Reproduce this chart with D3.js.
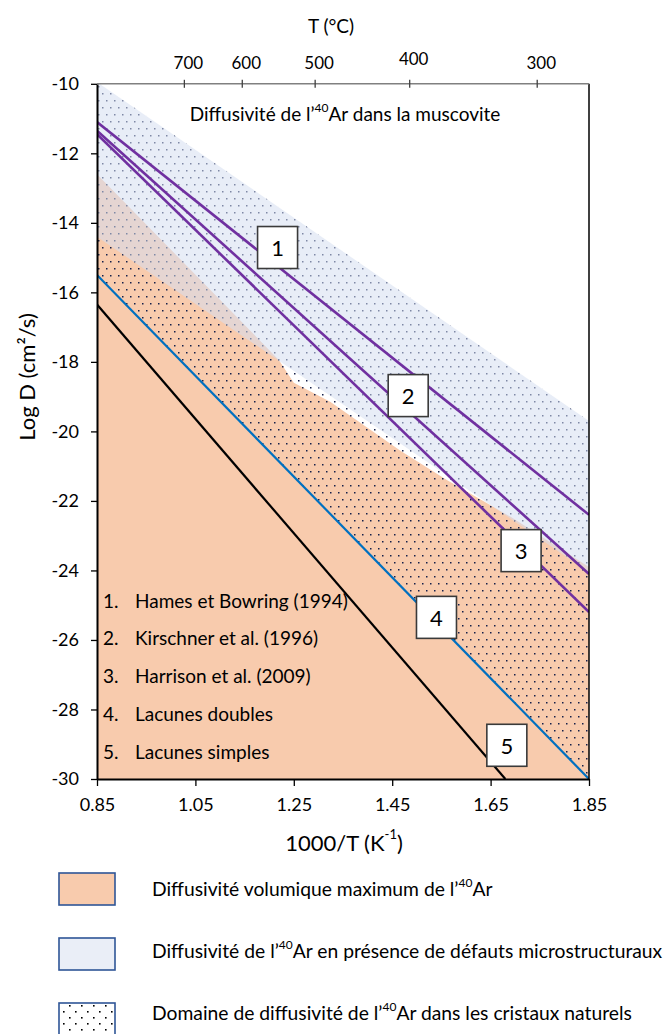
<!DOCTYPE html>
<html><head><meta charset="utf-8">
<script src="https://cdn.jsdelivr.net/npm/d3@7"></script>
<style>
body{margin:0;background:#fff}
svg{display:block;font-family:Lato,"Open Sans",sans-serif}
</style>
</head><body><svg id="c" width="668" height="1034"></svg>
<script>
// ---------- data ----------
const xDomain = [0.85, 1.85];
const yDomain = [-30, -10];
const xTicks = [0.85, 1.05, 1.25, 1.45, 1.65, 1.85];
const yTicks = [-10, -12, -14, -16, -18, -20, -22, -24, -26, -28, -30];
const tempTicks = [700, 600, 500, 400, 300];

const line1 = [[0.85, -11.1], [1.85, -22.4]];   // Hames et Bowring (1994)
const line2 = [[0.85, -11.35], [1.85, -24.1]];  // Kirschner et al. (1996)
const line3 = [[0.85, -11.45], [1.85, -25.2]];  // Harrison et al. (2009)
const line4 = [[0.85, -15.5], [1.85, -30]];     // Lacunes doubles
const line5 = [[0.85, -16.35], [1.68, -30]];    // Lacunes simples

const orangeTop = [[0.85, -12.6], [1.22, -17.95], [1.25, -18.6], [1.324, -19.15],
                   [1.466, -20.55], [1.561, -21.4], [1.69, -22.45], [1.85, -23.9]];
const blueTop = [[0.85, -9.95], [1.85, -19.7]];
const blueBottom = [[0.85, -14.4], [1.85, -24.05]];

const boxLabels = ["1", "2", "3", "4", "5"];
const boxX = [1.217, 1.4825, 1.712, 1.54, 1.683];
const boxY = [-14.71, -18.97, -23.43, -25.35, -29.03];

const refNums = ["1.", "2.", "3.", "4.", "5."];
const refTexts = ["Hames et Bowring (1994)", "Kirschner et al. (1996)", "Harrison et al. (2009)",
                  "Lacunes doubles", "Lacunes simples"];

const legendTexts = [
  ["Diffusivité volumique maximum de l’", "40", "Ar"],
  ["Diffusivité de l’", "40", "Ar en présence de défauts microstructuraux"],
  ["Domaine de diffusivité de l’", "40", "Ar dans les cristaux naturels"]
];

// ---------- chart ----------
const L = 97, R = 589, T = 83.8, B = 779;
const x = d3.scaleLinear().domain(xDomain).range([L, R]);
const y = d3.scaleLinear().domain(yDomain).range([B, T]);
const svg = d3.select("#c");
const defs = svg.append("defs");
defs.append("clipPath").attr("id", "plot")
  .append("rect").attr("x", L).attr("y", T).attr("width", R - L).attr("height", B - T);

const pat = defs.append("pattern").attr("id", "dots").attr("patternUnits", "userSpaceOnUse")
  .attr("width", 8).attr("height", 14);
pat.append("rect").attr("x", 2).attr("y", 2).attr("width", 1.5).attr("height", 1.5).attr("fill", "#15204a");
pat.append("rect").attr("x", 6).attr("y", 9).attr("width", 1.5).attr("height", 1.5).attr("fill", "#15204a");

const pat2 = defs.append("pattern").attr("id", "dotsLeg").attr("patternUnits", "userSpaceOnUse")
  .attr("width", 12).attr("height", 12);
pat2.append("rect").attr("x", 3).attr("y", 3).attr("width", 1.6).attr("height", 1.6).attr("fill", "#000");
pat2.append("rect").attr("x", 9).attr("y", 9).attr("width", 1.6).attr("height", 1.6).attr("fill", "#000");

const g = svg.append("g").attr("clip-path", "url(#plot)");
const ln = d3.line().x(d => x(d[0])).y(d => y(d[1]));

// orange domain
const orangeArea = d3.area().x(d => x(d[0])).y0(y(yDomain[0])).y1(d => y(d[1]));
g.append("path").attr("d", orangeArea(orangeTop)).attr("fill", "#F8CBAD");

// dotted domain (natural crystals): between blue top and line 4
g.append("path").attr("d", ln(blueTop.concat(line4.slice().reverse())) + "Z")
  .attr("fill", "url(#dots)");

// blue band (defects)
g.append("path").attr("d", ln(blueTop.concat(blueBottom.slice().reverse())) + "Z")
  .attr("fill", "#D6DFF0").attr("fill-opacity", 0.55);

// lines
[[line1, "#7030A0", 2.6], [line2, "#7030A0", 2.6], [line3, "#7030A0", 2.6],
 [line4, "#0070C0", 2.2], [line5, "#000000", 2.2]].forEach(([d, c, w]) => {
  g.append("path").attr("d", ln(d)).attr("fill", "none").attr("stroke", c).attr("stroke-width", w);
});

// numbered boxes
const bw = 40, bh = 42;
boxLabels.forEach((lab, i) => {
  const cx = x(boxX[i]), cy = y(boxY[i]);
  svg.append("rect").attr("x", cx - bw / 2).attr("y", cy - bh / 2).attr("width", bw).attr("height", bh)
    .attr("fill", "#fff").attr("stroke", "#3a3a3a").attr("stroke-width", 1.6);
  svg.append("text").attr("x", cx).attr("y", cy).attr("text-anchor", "middle")
    .attr("dominant-baseline", "central").attr("font-size", 22).attr("fill", "#000").text(lab);
});

// in-plot references
refNums.forEach((n, i) => {
  const yy = 600 + i * 37.8;
  svg.append("text").attr("x", 103).attr("y", yy).attr("dominant-baseline", "central")
    .attr("font-size", 19).attr("fill", "#000").text(n);
  svg.append("text").attr("x", 135).attr("y", yy).attr("dominant-baseline", "central")
    .attr("font-size", 19).attr("fill", "#000").text(refTexts[i]);
});

// title in plot
const tt = svg.append("text").attr("x", 345).attr("y", 113).attr("text-anchor", "middle")
  .attr("dominant-baseline", "central").attr("font-size", 19).attr("fill", "#000");
tt.append("tspan").text("Diffusivité de l’");
tt.append("tspan").attr("font-size", 12).attr("dy", -6).text("40");
tt.append("tspan").attr("dy", 6).text("Ar dans la muscovite");

// ---------- axes ----------
const yAxis = svg.append("g").attr("transform", `translate(${L},0)`)
  .call(d3.axisLeft(y).tickValues(yTicks).tickSize(6).tickSizeOuter(0).tickPadding(12).tickFormat(d => String(d)));
yAxis.select(".domain").attr("stroke", "#000").attr("stroke-width", 2);
yAxis.selectAll(".tick line").attr("stroke", "#000").attr("stroke-width", 1.3);
yAxis.selectAll("text").attr("font-size", 18).attr("fill", "#000").attr("font-family", "Lato");

const xAxis = svg.append("g").attr("transform", `translate(0,${B})`)
  .call(d3.axisBottom(x).tickValues(xTicks).tickSize(7).tickSizeOuter(0).tickPadding(12).tickFormat(d3.format(".2f")));
xAxis.select(".domain").attr("stroke", "#000").attr("stroke-width", 2);
xAxis.selectAll(".tick line").attr("stroke", "#000").attr("stroke-width", 1.3);
xAxis.selectAll("text").attr("font-size", 18).attr("fill", "#000").attr("font-family", "Lato");

// right border
svg.append("line").attr("x1", R).attr("x2", R).attr("y1", T).attr("y2", B)
  .attr("stroke", "#000").attr("stroke-width", 1.5);

// top temperature axis
svg.append("line").attr("x1", L).attr("x2", R).attr("y1", T).attr("y2", T)
  .attr("stroke", "#808080").attr("stroke-width", 1.5);
const tx = t => x(1000 / (t + 273.15));
tempTicks.forEach(t => {
  svg.append("line").attr("x1", tx(t)).attr("x2", tx(t)).attr("y1", T - 4).attr("y2", T + 4)
    .attr("stroke", "#404040").attr("stroke-width", 1.3);
  svg.append("text").attr("x", tx(t) + 4).attr("y", t === 400 ? 58 : 62).attr("text-anchor", "middle")
    .attr("dominant-baseline", "central").attr("font-size", 17).attr("fill", "#000").text(t);
});

// axis titles
svg.append("text").attr("x", 331).attr("y", 25).attr("text-anchor", "middle")
  .attr("dominant-baseline", "central").attr("font-size", 19).attr("fill", "#000").text("T (°C)");

const xt = svg.append("text").attr("x", 344).attr("y", 842).attr("text-anchor", "middle")
  .attr("dominant-baseline", "central").attr("font-size", 22).attr("fill", "#000");
xt.append("tspan").text("1000/T (K");
xt.append("tspan").attr("font-size", 13).attr("dy", -8).text("-1");
xt.append("tspan").attr("dy", 8).text(")");

const yt = svg.append("text").attr("transform", "translate(26,377) rotate(-90)").attr("text-anchor", "middle")
  .attr("dominant-baseline", "central").attr("font-size", 22).attr("fill", "#000");
yt.append("tspan").text("Log D (cm²/s)");

// ---------- bottom legend ----------
const legFills = ["#F8CBAD", "#EAEEF7", "url(#dotsLeg)"];
legendTexts.forEach((parts, i) => {
  const top = 873 + i * 65;
  svg.append("rect").attr("x", 59).attr("y", top).attr("width", 56).attr("height", 32)
    .attr("fill", i === 2 ? "#fff" : legFills[i]).attr("stroke", "#2F5597").attr("stroke-width", 1.6);
  if (i === 2) svg.append("rect").attr("x", 59).attr("y", top).attr("width", 56).attr("height", 32)
    .attr("fill", legFills[i]);
  const t = svg.append("text").attr("x", 152).attr("y", 888 + i * 62).attr("dominant-baseline", "central")
    .attr("font-size", 19.3).attr("fill", "#000");
  t.append("tspan").text(parts[0]);
  t.append("tspan").attr("font-size", 12).attr("dy", -6).text(parts[1]);
  t.append("tspan").attr("dy", 6).text(parts[2]);
});
</script>
</body></html>
